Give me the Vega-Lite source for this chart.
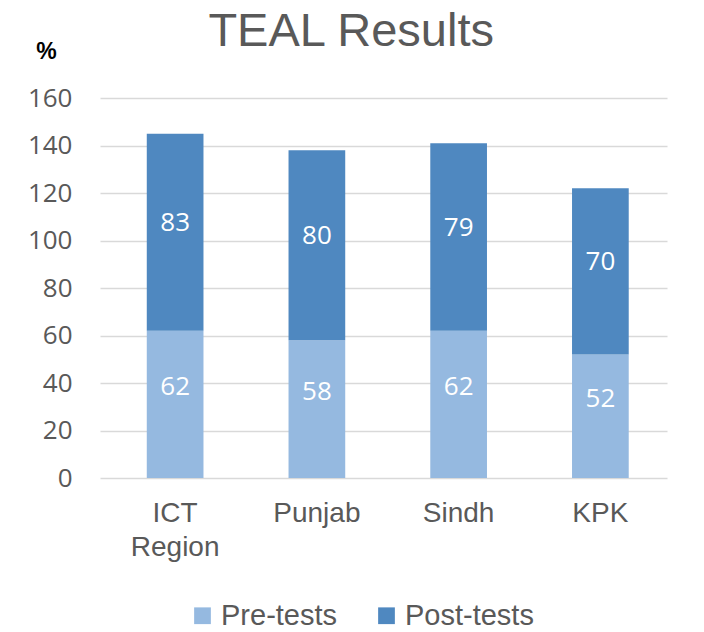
{
  "$schema": "https://vega.github.io/schema/vega-lite/v6.json",
  "autosize": "none",
  "width": 567,
  "height": 380,
  "padding": {"left": 100, "top": 98, "right": 37, "bottom": 154},
  "background": "white",
  "title": {
    "text": "TEAL Results",
    "font": "Liberation Sans",
    "fontSize": 47,
    "fontWeight": "normal",
    "color": "#595959",
    "anchor": "middle",
    "frame": "bounds",
    "baseline": "alphabetic",
    "offset": -53,
    "dx": 4
  },
  "data": {
    "values": [
      {"region": "ICT Region", "test": "Pre-tests", "value": 62, "order": 1},
      {"region": "ICT Region", "test": "Post-tests", "value": 83, "order": 2},
      {"region": "Punjab", "test": "Pre-tests", "value": 58, "order": 1},
      {"region": "Punjab", "test": "Post-tests", "value": 80, "order": 2},
      {"region": "Sindh", "test": "Pre-tests", "value": 62, "order": 1},
      {"region": "Sindh", "test": "Post-tests", "value": 79, "order": 2},
      {"region": "KPK", "test": "Pre-tests", "value": 52, "order": 1},
      {"region": "KPK", "test": "Post-tests", "value": 70, "order": 2}
    ]
  },
  "encoding": {
    "x": {
      "field": "region",
      "type": "nominal",
      "sort": ["ICT Region", "Punjab", "Sindh", "KPK"],
      "scale": {"paddingInner": 0.6, "paddingOuter": 0.3, "align": 0.55},
      "axis": {
        "title": null,
        "labelAngle": 0,
        "labelExpr": "split(datum.label, ' ')",
        "labelFont": "Liberation Sans",
        "labelFontSize": 28,
        "labelColor": "#595959",
        "labelLineHeight": 34,
        "labelPadding": 21,
        "domain": false,
        "ticks": false
      }
    },
    "y": {
      "field": "value",
      "type": "quantitative",
      "aggregate": "sum",
      "stack": "zero",
      "scale": {"domain": [0, 160]},
      "axis": {
        "title": "%",
        "titleAngle": 0,
        "titleAlign": "center",
        "titleBaseline": "middle",
        "titleX": -54,
        "titleY": -47,
        "titleFont": "Liberation Sans",
        "titleFontSize": 23,
        "titleFontWeight": "bold",
        "titleColor": "#000000",
        "values": [0, 20, 40, 60, 80, 100, 120, 140, 160],
        "labelFont": "Open Sans",
        "labelFontSize": 26,
        "labelColor": "#595959",
        "labelPadding": 28,
        "domain": false,
        "ticks": false,
        "grid": true,
        "gridColor": "#d9d9d9",
        "gridWidth": 1.5
      }
    },
    "order": {"field": "order", "type": "quantitative"}
  },
  "layer": [
    {
      "mark": {"type": "bar"},
      "encoding": {
        "color": {
          "field": "test",
          "type": "nominal",
          "sort": ["Pre-tests", "Post-tests"],
          "scale": {"domain": ["Pre-tests", "Post-tests"], "range": ["#95b9e0", "#4f88c0"]},
          "legend": {
            "title": null,
            "orient": "none",
            "legendX": 88,
            "legendY": 503,
            "direction": "horizontal",
            "symbolType": "square",
            "symbolSize": 280,
            "symbolStrokeWidth": 0,
            "labelFont": "Liberation Sans",
            "labelFontSize": 29,
            "labelColor": "#595959",
            "labelOffset": 4,
            "columnPadding": 34
          }
        }
      }
    },
    {
      "mark": {"type": "text", "color": "white", "font": "Open Sans", "fontSize": 26, "dy": -9},
      "encoding": {
        "y": {"field": "value", "type": "quantitative", "aggregate": "sum", "stack": "zero", "bandPosition": 0.5},
        "detail": {"field": "test", "type": "nominal"},
        "text": {"field": "value", "type": "quantitative"},
        "opacity": {"condition": {"test": "datum.test === 'Post-tests'", "value": 1}, "value": 0}
      }
    },
    {
      "mark": {"type": "text", "color": "white", "font": "Open Sans", "fontSize": 26, "dy": -17},
      "encoding": {
        "y": {"field": "value", "type": "quantitative", "aggregate": "sum", "stack": "zero", "bandPosition": 0.5},
        "detail": {"field": "test", "type": "nominal"},
        "text": {"field": "value", "type": "quantitative"},
        "opacity": {"condition": {"test": "datum.test === 'Pre-tests'", "value": 1}, "value": 0}
      }
    }
  ],
  "config": {
    "view": {"stroke": null}
  }
}
